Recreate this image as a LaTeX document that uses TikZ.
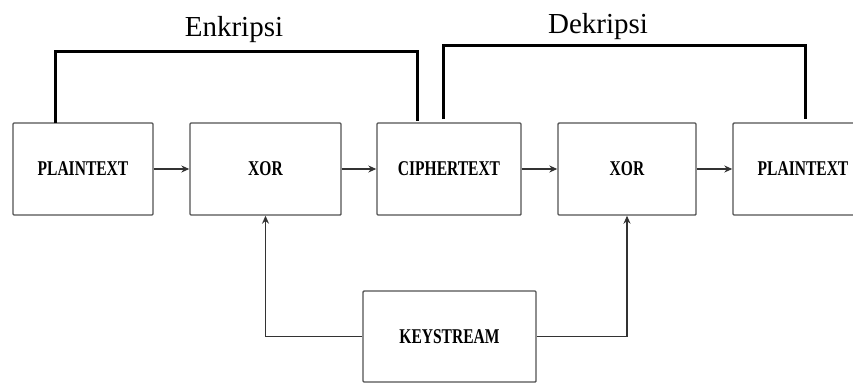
\documentclass[tikz,border=0pt]{standalone}
\usepackage{fontspec}
\setmainfont{Liberation Serif}
\usepackage{graphicx}
\usetikzlibrary{arrows.meta}
\newcommand{\boxlbl}[1]{\scalebox{0.74}[1]{#1}}
\begin{document}
\begin{tikzpicture}[x=1pt,y=-1pt,
  blk/.style={draw=black!68,line width=1.4pt,rounded corners=1pt,minimum height=92pt,
    inner sep=0pt,font=\fontsize{21}{21}\selectfont\bfseries},
  arr/.style={draw=black!80,line width=1.2pt,-{Stealth[length=8pt,width=7pt]}},
  bracket/.style={draw=black,line width=3pt},
  ttl/.style={font=\fontsize{29}{29}\selectfont,anchor=base,inner sep=0pt}]
\useasboundingbox (0,0) rectangle (853,383);
\clip (0,0) rectangle (853,383);
\node[blk,minimum width=140pt] (p1) at (83,169) {\boxlbl{PLAINTEXT}};
\node[blk,minimum width=151pt] (x1) at (265.5,169) {\boxlbl{XOR}};
\node[blk,minimum width=144pt] (c) at (449,169) {\boxlbl{CIPHERTEXT}};
\node[blk,minimum width=138pt] (x2) at (627,169) {\boxlbl{XOR}};
\node[blk,minimum width=140pt] (p2) at (803,169) {\boxlbl{PLAINTEXT}};
\node[blk,minimum width=173pt,minimum height=91pt] (ks) at (449.5,336.5) {\boxlbl{KEYSTREAM}};
\draw[arr] (p1) -- (x1);
\draw[arr] (x1) -- (c);
\draw[arr] (c) -- (x2);
\draw[arr] (x2) -- (p2);
\draw[arr] (ks.west) -| (x1.south);
\draw[arr] (ks.east) -| (x2.south);
\coordinate (e1) at (55,123);
\coordinate (e2) at (417,121);
\coordinate (d1) at (443,119);
\coordinate (d2) at (805,119);
\draw[bracket] (e1) |- (417,51) -- (e2);
\draw[bracket] (d1) |- (805,45) -- (d2);
\node[ttl] (enk) at (234,36) {Enkripsi};
\node[ttl] (dek) at (598,33) {Dekripsi};
\end{tikzpicture}
\end{document}
